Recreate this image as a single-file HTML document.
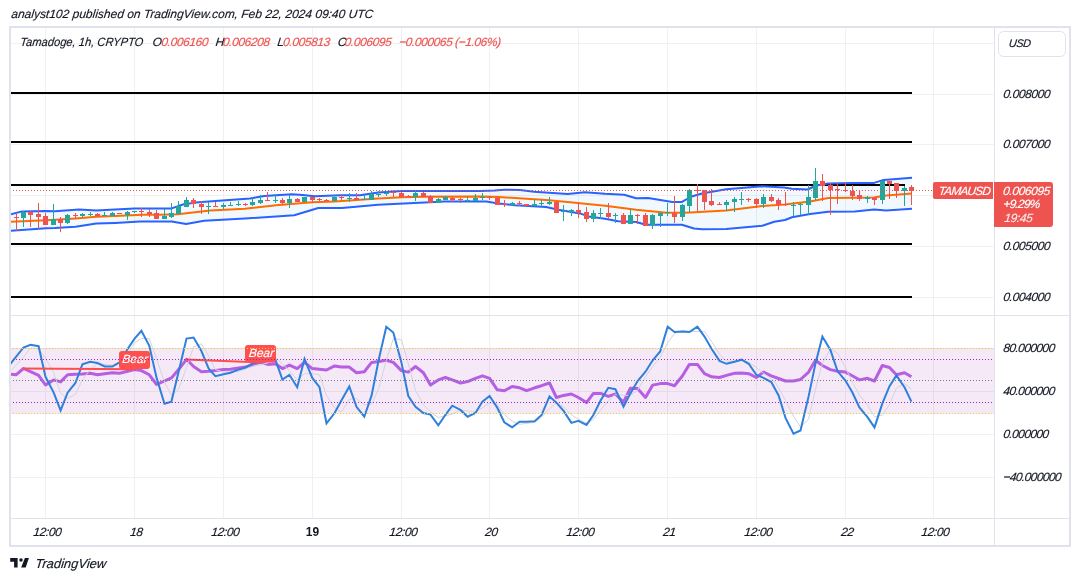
<!DOCTYPE html>
<html><head><meta charset="utf-8"><style>
html,body{margin:0;padding:0;background:#fff;width:1080px;height:581px;overflow:hidden}
svg{display:block;font-family:"Liberation Sans", sans-serif;will-change:transform}
</style></head><body>
<svg width="1080" height="581" viewBox="0 0 1080 581">
<rect x="45" y="28" width="1" height="490" fill="#f0f0f0"/>
<rect x="134" y="28" width="1" height="490" fill="#f0f0f0"/>
<rect x="223" y="28" width="1" height="490" fill="#f0f0f0"/>
<rect x="312" y="28" width="1" height="490" fill="#f0f0f0"/>
<rect x="401" y="28" width="1" height="490" fill="#f0f0f0"/>
<rect x="489" y="28" width="1" height="490" fill="#f0f0f0"/>
<rect x="578" y="28" width="1" height="490" fill="#f0f0f0"/>
<rect x="667" y="28" width="1" height="490" fill="#f0f0f0"/>
<rect x="756" y="28" width="1" height="490" fill="#f0f0f0"/>
<rect x="845" y="28" width="1" height="490" fill="#f0f0f0"/>
<rect x="933" y="28" width="1" height="490" fill="#f0f0f0"/>
<rect x="11" y="43" width="983" height="1" fill="#f0f0f0"/>
<rect x="11" y="94" width="983" height="1" fill="#f0f0f0"/>
<rect x="11" y="144" width="983" height="1" fill="#f0f0f0"/>
<rect x="11" y="195" width="983" height="1" fill="#f0f0f0"/>
<rect x="11" y="246" width="983" height="1" fill="#f0f0f0"/>
<rect x="11" y="297" width="983" height="1" fill="#f0f0f0"/>
<rect x="11" y="348" width="983" height="1" fill="#f0f0f0"/>
<rect x="11" y="391" width="983" height="1" fill="#f0f0f0"/>
<rect x="11" y="434" width="983" height="1" fill="#f0f0f0"/>
<rect x="11" y="477" width="983" height="1" fill="#f0f0f0"/>
<rect x="10" y="27" width="1060" height="519" fill="none" stroke="#e0e3eb" stroke-width="2"/>
<rect x="994" y="28" width="1" height="517" fill="#e0e3eb"/>
<rect x="11" y="315" width="1058" height="1" fill="#e0e3eb"/>
<rect x="11" y="518" width="1058" height="1" fill="#e0e3eb"/>
<defs><clipPath id="mainclip"><rect x="11" y="28" width="983" height="287"/></clipPath><clipPath id="indclip"><rect x="11" y="316" width="983" height="202"/></clipPath></defs>
<g clip-path="url(#mainclip)">
<polygon points="11.0,214.2 22.0,211.4 46.0,210.9 55.0,211.2 79.1,209.4 96.3,210.5 115.0,209.4 134.2,208.4 171.7,208.4 183.7,204.3 198.2,202.2 250.0,198.5 264.1,196.1 291.8,194.3 302.7,195.0 314.7,196.3 340.0,195.3 360.1,195.3 378.2,192.5 402.3,191.1 430.0,190.9 480.2,191.1 494.7,190.4 504.3,189.7 520.0,190.0 534.1,191.7 567.8,193.9 584.7,192.3 605.0,193.8 624.1,194.7 636.1,198.3 648.2,198.0 672.3,201.9 681.9,201.9 691.6,196.5 702.0,193.5 726.1,189.3 762.3,186.3 784.0,187.6 792.0,188.7 807.7,189.5 816.1,185.5 828.2,183.5 852.3,182.9 874.1,182.9 883.7,179.9 912.0,177.8 912.0,208.8 886.1,210.6 874.1,209.4 855.0,211.6 828.2,211.8 810.1,214.0 792.0,217.2 785.0,220.0 774.3,221.8 762.3,225.7 726.1,229.0 702.0,229.3 694.0,228.5 681.9,224.8 645.8,224.8 636.1,222.0 618.1,221.2 605.0,218.7 588.3,216.4 579.9,213.4 558.2,209.8 546.1,207.1 515.0,205.2 498.3,203.4 486.3,201.6 444.1,201.6 430.0,202.2 378.2,204.8 342.0,208.1 318.3,208.0 294.2,215.2 245.0,218.6 204.2,220.8 186.1,223.9 171.7,221.4 140.2,221.6 115.0,222.9 96.3,223.6 75.6,226.7 55.0,227.9 46.1,228.2 11.0,230.7" fill="rgba(33,150,243,0.06)"/>
<rect x="11" y="92" width="901" height="2" fill="#000"/>
<rect x="11" y="141" width="901" height="2" fill="#000"/>
<rect x="11" y="184" width="894" height="2" fill="#000"/>
<rect x="11" y="243" width="901" height="2" fill="#000"/>
<rect x="11" y="296" width="901" height="2" fill="#000"/>
<polyline points="11.0,214.2 22.0,211.4 46.0,210.9 55.0,211.2 79.1,209.4 96.3,210.5 115.0,209.4 134.2,208.4 171.7,208.4 183.7,204.3 198.2,202.2 250.0,198.5 264.1,196.1 291.8,194.3 302.7,195.0 314.7,196.3 340.0,195.3 360.1,195.3 378.2,192.5 402.3,191.1 430.0,190.9 480.2,191.1 494.7,190.4 504.3,189.7 520.0,190.0 534.1,191.7 567.8,193.9 584.7,192.3 605.0,193.8 624.1,194.7 636.1,198.3 648.2,198.0 672.3,201.9 681.9,201.9 691.6,196.5 702.0,193.5 726.1,189.3 762.3,186.3 784.0,187.6 792.0,188.7 807.7,189.5 816.1,185.5 828.2,183.5 852.3,182.9 874.1,182.9 883.7,179.9 912.0,177.8" fill="none" stroke="#2962ff" stroke-width="2" stroke-linejoin="round"/>
<polyline points="11.0,230.7 46.1,228.2 55.0,227.9 75.6,226.7 96.3,223.6 115.0,222.9 140.2,221.6 171.7,221.4 186.1,223.9 204.2,220.8 245.0,218.6 294.2,215.2 318.3,208.0 342.0,208.1 378.2,204.8 430.0,202.2 444.1,201.6 486.3,201.6 498.3,203.4 515.0,205.2 546.1,207.1 558.2,209.8 579.9,213.4 588.3,216.4 605.0,218.7 618.1,221.2 636.1,222.0 645.8,224.8 681.9,224.8 694.0,228.5 702.0,229.3 726.1,229.0 762.3,225.7 774.3,221.8 785.0,220.0 792.0,217.2 810.1,214.0 828.2,211.8 855.0,211.6 874.1,209.4 886.1,210.6 912.0,208.8" fill="none" stroke="#2962ff" stroke-width="2" stroke-linejoin="round"/>
<polyline points="11.0,221.8 46.1,220.3 55.0,219.8 75.6,218.4 96.3,216.7 115.0,216.0 142.7,214.8 160.0,214.8 177.7,214.2 210.2,210.6 245.0,208.7 276.1,205.2 312.3,202.2 335.0,201.6 378.2,198.6 402.3,197.3 425.0,196.8 480.2,196.5 498.3,197.1 515.0,198.0 546.1,200.1 570.2,202.3 605.0,205.7 636.1,209.8 666.3,212.8 684.3,212.8 695.0,212.2 726.1,210.4 762.3,206.1 785.0,204.4 810.1,201.6 828.2,198.0 855.0,197.7 874.1,197.6 886.1,195.5 912.0,193.5" fill="none" stroke="#ff6d00" stroke-width="2" stroke-linejoin="round"/>
<rect x="16" y="213" width="1" height="18" fill="#ef5350"/>
<rect x="14" y="217" width="5" height="1" fill="#ef5350"/>
<rect x="23" y="211" width="1" height="16" fill="#26a69a"/>
<rect x="21" y="212" width="5" height="6" fill="#26a69a"/>
<rect x="30" y="211" width="1" height="16" fill="#ef5350"/>
<rect x="28" y="212" width="5" height="3" fill="#ef5350"/>
<rect x="38" y="203" width="1" height="26" fill="#ef5350"/>
<rect x="36" y="214" width="5" height="3" fill="#ef5350"/>
<rect x="45" y="213" width="1" height="12" fill="#ef5350"/>
<rect x="43" y="216" width="5" height="9" fill="#ef5350"/>
<rect x="53" y="204" width="1" height="21" fill="#26a69a"/>
<rect x="51" y="219" width="5" height="6" fill="#26a69a"/>
<rect x="60" y="217" width="1" height="15" fill="#ef5350"/>
<rect x="58" y="219" width="5" height="4" fill="#ef5350"/>
<rect x="67" y="214" width="1" height="10" fill="#26a69a"/>
<rect x="65" y="215" width="5" height="8" fill="#26a69a"/>
<rect x="75" y="213" width="1" height="6" fill="#ef5350"/>
<rect x="73" y="215" width="5" height="1" fill="#ef5350"/>
<rect x="82" y="213" width="1" height="4" fill="#26a69a"/>
<rect x="80" y="214" width="5" height="2" fill="#26a69a"/>
<rect x="90" y="212" width="1" height="4" fill="#26a69a"/>
<rect x="88" y="214" width="5" height="1" fill="#26a69a"/>
<rect x="97" y="213" width="1" height="4" fill="#ef5350"/>
<rect x="95" y="214" width="5" height="2" fill="#ef5350"/>
<rect x="104" y="212" width="1" height="4" fill="#26a69a"/>
<rect x="102" y="215" width="5" height="1" fill="#26a69a"/>
<rect x="112" y="212" width="1" height="4" fill="#26a69a"/>
<rect x="110" y="213" width="5" height="3" fill="#26a69a"/>
<rect x="119" y="213" width="1" height="1" fill="#ef5350"/>
<rect x="117" y="213" width="5" height="1" fill="#ef5350"/>
<rect x="127" y="211" width="1" height="9" fill="#26a69a"/>
<rect x="125" y="212" width="5" height="3" fill="#26a69a"/>
<rect x="134" y="211" width="1" height="2" fill="#26a69a"/>
<rect x="132" y="211" width="5" height="1" fill="#26a69a"/>
<rect x="141" y="208" width="1" height="9" fill="#ef5350"/>
<rect x="139" y="211" width="5" height="1" fill="#ef5350"/>
<rect x="149" y="209" width="1" height="8" fill="#ef5350"/>
<rect x="147" y="212" width="5" height="2" fill="#ef5350"/>
<rect x="156" y="210" width="1" height="9" fill="#ef5350"/>
<rect x="154" y="213" width="5" height="6" fill="#ef5350"/>
<rect x="164" y="209" width="1" height="10" fill="#26a69a"/>
<rect x="162" y="216" width="5" height="3" fill="#26a69a"/>
<rect x="171" y="203" width="1" height="15" fill="#26a69a"/>
<rect x="169" y="213" width="5" height="4" fill="#26a69a"/>
<rect x="178" y="201" width="1" height="13" fill="#26a69a"/>
<rect x="176" y="206" width="5" height="8" fill="#26a69a"/>
<rect x="186" y="197" width="1" height="10" fill="#26a69a"/>
<rect x="184" y="200" width="5" height="7" fill="#26a69a"/>
<rect x="193" y="198" width="1" height="10" fill="#ef5350"/>
<rect x="191" y="200" width="5" height="4" fill="#ef5350"/>
<rect x="201" y="201" width="1" height="13" fill="#ef5350"/>
<rect x="199" y="204" width="5" height="3" fill="#ef5350"/>
<rect x="208" y="202" width="1" height="12" fill="#26a69a"/>
<rect x="206" y="206" width="5" height="1" fill="#26a69a"/>
<rect x="215" y="202" width="1" height="5" fill="#ef5350"/>
<rect x="213" y="206" width="5" height="1" fill="#ef5350"/>
<rect x="223" y="203" width="1" height="6" fill="#26a69a"/>
<rect x="221" y="205" width="5" height="2" fill="#26a69a"/>
<rect x="230" y="202" width="1" height="4" fill="#26a69a"/>
<rect x="228" y="205" width="5" height="1" fill="#26a69a"/>
<rect x="238" y="201" width="1" height="5" fill="#26a69a"/>
<rect x="236" y="204" width="5" height="1" fill="#26a69a"/>
<rect x="245" y="203" width="1" height="3" fill="#ef5350"/>
<rect x="243" y="204" width="5" height="1" fill="#ef5350"/>
<rect x="252" y="198" width="1" height="8" fill="#26a69a"/>
<rect x="250" y="202" width="5" height="3" fill="#26a69a"/>
<rect x="260" y="195" width="1" height="9" fill="#26a69a"/>
<rect x="258" y="200" width="5" height="3" fill="#26a69a"/>
<rect x="267" y="192" width="1" height="9" fill="#ef5350"/>
<rect x="265" y="200" width="5" height="1" fill="#ef5350"/>
<rect x="275" y="194" width="1" height="9" fill="#26a69a"/>
<rect x="273" y="200" width="5" height="1" fill="#26a69a"/>
<rect x="282" y="198" width="1" height="7" fill="#ef5350"/>
<rect x="280" y="200" width="5" height="3" fill="#ef5350"/>
<rect x="289" y="195" width="1" height="13" fill="#26a69a"/>
<rect x="287" y="199" width="5" height="4" fill="#26a69a"/>
<rect x="297" y="198" width="1" height="4" fill="#ef5350"/>
<rect x="295" y="199" width="5" height="3" fill="#ef5350"/>
<rect x="304" y="197" width="1" height="5" fill="#26a69a"/>
<rect x="302" y="197" width="5" height="5" fill="#26a69a"/>
<rect x="312" y="197" width="1" height="6" fill="#ef5350"/>
<rect x="310" y="197" width="5" height="3" fill="#ef5350"/>
<rect x="319" y="198" width="1" height="3" fill="#ef5350"/>
<rect x="317" y="199" width="5" height="1" fill="#ef5350"/>
<rect x="326" y="199" width="1" height="2" fill="#ef5350"/>
<rect x="324" y="200" width="5" height="1" fill="#ef5350"/>
<rect x="334" y="195" width="1" height="6" fill="#26a69a"/>
<rect x="332" y="197" width="5" height="4" fill="#26a69a"/>
<rect x="341" y="195" width="1" height="5" fill="#ef5350"/>
<rect x="339" y="197" width="5" height="1" fill="#ef5350"/>
<rect x="349" y="193" width="1" height="9" fill="#26a69a"/>
<rect x="347" y="198" width="5" height="1" fill="#26a69a"/>
<rect x="356" y="193" width="1" height="7" fill="#ef5350"/>
<rect x="354" y="198" width="5" height="2" fill="#ef5350"/>
<rect x="364" y="195" width="1" height="5" fill="#26a69a"/>
<rect x="362" y="199" width="5" height="1" fill="#26a69a"/>
<rect x="371" y="191" width="1" height="9" fill="#26a69a"/>
<rect x="369" y="194" width="5" height="6" fill="#26a69a"/>
<rect x="378" y="191" width="1" height="6" fill="#26a69a"/>
<rect x="376" y="194" width="5" height="1" fill="#26a69a"/>
<rect x="386" y="191" width="1" height="5" fill="#26a69a"/>
<rect x="384" y="193" width="5" height="1" fill="#26a69a"/>
<rect x="393" y="190" width="1" height="7" fill="#ef5350"/>
<rect x="391" y="192" width="5" height="1" fill="#ef5350"/>
<rect x="401" y="192" width="1" height="5" fill="#ef5350"/>
<rect x="399" y="193" width="5" height="4" fill="#ef5350"/>
<rect x="408" y="195" width="1" height="2" fill="#ef5350"/>
<rect x="406" y="196" width="5" height="1" fill="#ef5350"/>
<rect x="415" y="191" width="1" height="10" fill="#26a69a"/>
<rect x="413" y="193" width="5" height="4" fill="#26a69a"/>
<rect x="423" y="192" width="1" height="5" fill="#ef5350"/>
<rect x="421" y="193" width="5" height="4" fill="#ef5350"/>
<rect x="430" y="195" width="1" height="8" fill="#ef5350"/>
<rect x="428" y="196" width="5" height="7" fill="#ef5350"/>
<rect x="438" y="198" width="1" height="5" fill="#26a69a"/>
<rect x="436" y="199" width="5" height="4" fill="#26a69a"/>
<rect x="445" y="196" width="1" height="4" fill="#26a69a"/>
<rect x="443" y="197" width="5" height="3" fill="#26a69a"/>
<rect x="452" y="197" width="1" height="5" fill="#ef5350"/>
<rect x="450" y="198" width="5" height="2" fill="#ef5350"/>
<rect x="460" y="198" width="1" height="5" fill="#ef5350"/>
<rect x="458" y="199" width="5" height="1" fill="#ef5350"/>
<rect x="467" y="197" width="1" height="5" fill="#26a69a"/>
<rect x="465" y="200" width="5" height="1" fill="#26a69a"/>
<rect x="475" y="194" width="1" height="7" fill="#26a69a"/>
<rect x="473" y="198" width="5" height="3" fill="#26a69a"/>
<rect x="482" y="193" width="1" height="7" fill="#26a69a"/>
<rect x="480" y="197" width="5" height="1" fill="#26a69a"/>
<rect x="489" y="196" width="1" height="4" fill="#ef5350"/>
<rect x="487" y="197" width="5" height="1" fill="#ef5350"/>
<rect x="497" y="196" width="1" height="9" fill="#ef5350"/>
<rect x="495" y="198" width="5" height="7" fill="#ef5350"/>
<rect x="504" y="200" width="1" height="7" fill="#ef5350"/>
<rect x="502" y="204" width="5" height="1" fill="#ef5350"/>
<rect x="512" y="202" width="1" height="4" fill="#26a69a"/>
<rect x="510" y="203" width="5" height="2" fill="#26a69a"/>
<rect x="519" y="201" width="1" height="5" fill="#ef5350"/>
<rect x="517" y="203" width="5" height="1" fill="#ef5350"/>
<rect x="526" y="204" width="1" height="2" fill="#ef5350"/>
<rect x="524" y="204" width="5" height="2" fill="#ef5350"/>
<rect x="534" y="200" width="1" height="6" fill="#26a69a"/>
<rect x="532" y="204" width="5" height="2" fill="#26a69a"/>
<rect x="541" y="200" width="1" height="7" fill="#26a69a"/>
<rect x="539" y="203" width="5" height="1" fill="#26a69a"/>
<rect x="549" y="197" width="1" height="8" fill="#26a69a"/>
<rect x="547" y="202" width="5" height="2" fill="#26a69a"/>
<rect x="556" y="201" width="1" height="12" fill="#ef5350"/>
<rect x="554" y="202" width="5" height="11" fill="#ef5350"/>
<rect x="563" y="205" width="1" height="16" fill="#26a69a"/>
<rect x="561" y="211" width="5" height="1" fill="#26a69a"/>
<rect x="571" y="209" width="1" height="7" fill="#26a69a"/>
<rect x="569" y="210" width="5" height="2" fill="#26a69a"/>
<rect x="578" y="202" width="1" height="16" fill="#ef5350"/>
<rect x="576" y="210" width="5" height="3" fill="#ef5350"/>
<rect x="586" y="207" width="1" height="15" fill="#ef5350"/>
<rect x="584" y="212" width="5" height="7" fill="#ef5350"/>
<rect x="593" y="210" width="1" height="12" fill="#26a69a"/>
<rect x="591" y="213" width="5" height="6" fill="#26a69a"/>
<rect x="600" y="208" width="1" height="11" fill="#26a69a"/>
<rect x="598" y="213" width="5" height="1" fill="#26a69a"/>
<rect x="608" y="203" width="1" height="16" fill="#ef5350"/>
<rect x="606" y="213" width="5" height="4" fill="#ef5350"/>
<rect x="615" y="213" width="1" height="10" fill="#26a69a"/>
<rect x="613" y="215" width="5" height="1" fill="#26a69a"/>
<rect x="623" y="213" width="1" height="11" fill="#ef5350"/>
<rect x="621" y="215" width="5" height="9" fill="#ef5350"/>
<rect x="630" y="209" width="1" height="15" fill="#26a69a"/>
<rect x="628" y="215" width="5" height="9" fill="#26a69a"/>
<rect x="637" y="214" width="1" height="10" fill="#ef5350"/>
<rect x="635" y="215" width="5" height="1" fill="#ef5350"/>
<rect x="645" y="213" width="1" height="13" fill="#ef5350"/>
<rect x="643" y="215" width="5" height="11" fill="#ef5350"/>
<rect x="652" y="214" width="1" height="15" fill="#26a69a"/>
<rect x="650" y="215" width="5" height="10" fill="#26a69a"/>
<rect x="660" y="212" width="1" height="15" fill="#26a69a"/>
<rect x="658" y="213" width="5" height="3" fill="#26a69a"/>
<rect x="667" y="203" width="1" height="13" fill="#26a69a"/>
<rect x="665" y="212" width="5" height="1" fill="#26a69a"/>
<rect x="674" y="196" width="1" height="27" fill="#ef5350"/>
<rect x="672" y="213" width="5" height="4" fill="#ef5350"/>
<rect x="682" y="204" width="1" height="17" fill="#26a69a"/>
<rect x="680" y="205" width="5" height="12" fill="#26a69a"/>
<rect x="689" y="189" width="1" height="23" fill="#26a69a"/>
<rect x="687" y="190" width="5" height="16" fill="#26a69a"/>
<rect x="697" y="184" width="1" height="28" fill="#ef5350"/>
<rect x="695" y="190" width="5" height="1" fill="#ef5350"/>
<rect x="704" y="190" width="1" height="20" fill="#ef5350"/>
<rect x="702" y="190" width="5" height="12" fill="#ef5350"/>
<rect x="711" y="189" width="1" height="17" fill="#ef5350"/>
<rect x="709" y="201" width="5" height="4" fill="#ef5350"/>
<rect x="719" y="202" width="1" height="3" fill="#ef5350"/>
<rect x="717" y="204" width="5" height="1" fill="#ef5350"/>
<rect x="726" y="200" width="1" height="11" fill="#26a69a"/>
<rect x="724" y="202" width="5" height="3" fill="#26a69a"/>
<rect x="734" y="197" width="1" height="15" fill="#26a69a"/>
<rect x="732" y="199" width="5" height="3" fill="#26a69a"/>
<rect x="741" y="192" width="1" height="13" fill="#26a69a"/>
<rect x="739" y="199" width="5" height="1" fill="#26a69a"/>
<rect x="748" y="198" width="1" height="4" fill="#ef5350"/>
<rect x="746" y="199" width="5" height="1" fill="#ef5350"/>
<rect x="756" y="198" width="1" height="10" fill="#ef5350"/>
<rect x="754" y="199" width="5" height="5" fill="#ef5350"/>
<rect x="763" y="194" width="1" height="14" fill="#26a69a"/>
<rect x="761" y="197" width="5" height="7" fill="#26a69a"/>
<rect x="771" y="194" width="1" height="8" fill="#ef5350"/>
<rect x="769" y="197" width="5" height="4" fill="#ef5350"/>
<rect x="778" y="198" width="1" height="12" fill="#ef5350"/>
<rect x="776" y="200" width="5" height="5" fill="#ef5350"/>
<rect x="785" y="192" width="1" height="14" fill="#ef5350"/>
<rect x="783" y="204" width="5" height="1" fill="#ef5350"/>
<rect x="793" y="202" width="1" height="14" fill="#26a69a"/>
<rect x="791" y="205" width="5" height="1" fill="#26a69a"/>
<rect x="800" y="203" width="1" height="12" fill="#26a69a"/>
<rect x="798" y="204" width="5" height="1" fill="#26a69a"/>
<rect x="808" y="185" width="1" height="30" fill="#26a69a"/>
<rect x="806" y="197" width="5" height="8" fill="#26a69a"/>
<rect x="815" y="168" width="1" height="32" fill="#26a69a"/>
<rect x="813" y="181" width="5" height="17" fill="#26a69a"/>
<rect x="822" y="174" width="1" height="27" fill="#ef5350"/>
<rect x="820" y="181" width="5" height="5" fill="#ef5350"/>
<rect x="830" y="183" width="1" height="32" fill="#ef5350"/>
<rect x="828" y="185" width="5" height="5" fill="#ef5350"/>
<rect x="837" y="182" width="1" height="22" fill="#ef5350"/>
<rect x="835" y="189" width="5" height="1" fill="#ef5350"/>
<rect x="845" y="182" width="1" height="10" fill="#ef5350"/>
<rect x="843" y="190" width="5" height="1" fill="#ef5350"/>
<rect x="852" y="185" width="1" height="15" fill="#ef5350"/>
<rect x="850" y="191" width="5" height="5" fill="#ef5350"/>
<rect x="859" y="190" width="1" height="11" fill="#ef5350"/>
<rect x="857" y="195" width="5" height="4" fill="#ef5350"/>
<rect x="867" y="196" width="1" height="7" fill="#26a69a"/>
<rect x="865" y="197" width="5" height="2" fill="#26a69a"/>
<rect x="874" y="197" width="1" height="8" fill="#ef5350"/>
<rect x="872" y="197" width="5" height="3" fill="#ef5350"/>
<rect x="882" y="181" width="1" height="23" fill="#26a69a"/>
<rect x="880" y="181" width="5" height="19" fill="#26a69a"/>
<rect x="889" y="181" width="1" height="18" fill="#ef5350"/>
<rect x="887" y="181" width="5" height="3" fill="#ef5350"/>
<rect x="896" y="183" width="1" height="15" fill="#ef5350"/>
<rect x="894" y="183" width="5" height="8" fill="#ef5350"/>
<rect x="904" y="186" width="1" height="20" fill="#26a69a"/>
<rect x="902" y="188" width="5" height="3" fill="#26a69a"/>
<rect x="911" y="185" width="1" height="20" fill="#ef5350"/>
<rect x="909" y="187" width="5" height="4" fill="#ef5350"/>
<line x1="10" y1="190.5" x2="933" y2="190.5" stroke="#ef5350" stroke-width="1" stroke-dasharray="1 2"/>
</g>
<g clip-path="url(#indclip)">
<rect x="11" y="348" width="983" height="66" fill="rgba(156,39,176,0.1)"/>
<polyline points="10.0,374.1 16.3,374.7 23.5,368.5 30.5,371.6 38.6,375.3 45.5,385.0 53.6,379.9 60.6,381.9 67.6,374.7 75.4,374.3 82.4,374.1 90.2,373.3 97.5,374.8 104.7,373.7 112.3,372.7 119.5,373.3 127.6,371.3 134.6,369.6 141.4,370.6 149.3,374.8 156.6,384.5 164.5,381.0 171.4,377.9 178.6,369.6 186.5,359.3 193.6,366.5 201.4,371.7 208.7,371.3 215.4,370.6 223.5,369.6 230.5,369.2 238.6,368.0 245.5,367.1 252.7,364.4 260.5,362.4 267.7,364.4 275.3,363.8 282.4,368.6 289.4,365.1 297.2,368.6 304.5,362.4 312.3,368.6 319.5,369.2 326.5,370.0 334.6,365.9 341.4,367.1 349.3,367.1 356.5,372.7 364.3,371.7 371.6,362.4 378.8,361.4 386.3,360.3 393.3,362.4 401.4,370.6 408.3,372.1 415.5,366.5 423.4,372.7 430.5,385.1 438.3,379.9 445.3,377.5 452.3,379.9 460.4,383.0 467.6,381.6 475.4,378.3 482.4,375.8 489.6,378.3 497.3,389.8 504.3,390.7 512.2,386.5 519.6,387.8 526.6,390.7 534.7,387.8 541.6,385.7 549.5,383.0 556.4,397.5 563.6,395.4 571.4,394.0 578.4,397.5 586.5,402.6 593.4,393.4 600.6,393.4 608.3,396.4 615.4,394.0 623.5,402.2 630.4,388.2 637.6,388.6 645.5,397.5 652.7,385.1 660.2,383.6 667.7,383.6 674.5,385.7 682.5,375.8 689.4,364.4 697.4,364.4 704.5,373.7 711.7,376.8 719.5,377.5 726.5,375.4 734.6,373.3 741.6,372.9 748.7,373.7 756.3,377.5 763.5,372.1 771.3,375.8 778.6,378.5 785.6,381.0 793.5,381.0 800.5,379.5 808.6,372.1 815.5,360.3 822.4,365.5 830.4,369.6 837.6,371.3 845.4,372.1 852.3,375.8 859.4,379.9 867.5,378.3 874.5,381.0 882.3,365.5 889.5,367.5 896.4,374.8 904.5,372.7 911.4,376.8" fill="none" stroke="#b65fe3" stroke-width="3" stroke-linejoin="round"/>
<polyline points="10.0,371.6 23.5,357.2 30.5,347.9 38.6,348.9 45.5,358.2 53.6,372.6 60.6,393.3 67.6,398.4 75.4,394.3 82.4,379.9 90.2,369.5 97.5,363.8 112.3,365.1 119.5,362.4 127.6,354.1 134.6,342.8 141.4,338.6 149.3,338.6 156.6,359.3 164.5,382.0 171.4,395.4 178.6,389.2 186.5,367.5 193.6,346.9 201.4,343.8 208.7,356.2 215.4,369.6 223.5,372.1 238.6,371.3 252.7,366.5 267.7,363.0 275.3,357.2 289.4,370.6 297.2,379.9 304.5,373.7 312.3,373.7 319.5,374.8 326.5,395.4 334.6,407.8 341.4,411.9 349.3,399.5 356.5,398.5 364.3,404.7 371.6,404.3 378.8,388.2 386.3,360.3 393.3,338.6 401.4,339.7 408.3,363.4 415.5,390.3 423.4,404.7 430.5,411.9 438.3,417.5 452.3,414.0 460.4,409.9 467.6,410.9 475.4,411.9 482.4,407.8 489.6,402.6 497.3,404.7 504.3,414.6 512.2,421.2 519.6,424.3 534.7,422.3 541.6,417.1 549.5,408.8 556.4,402.6 563.6,406.8 571.4,415.0 578.4,419.2 586.5,423.3 593.4,419.2 600.6,409.9 608.3,400.6 615.4,394.4 623.5,395.4 630.4,395.4 637.6,390.3 645.5,376.8 652.7,366.5 660.2,357.2 667.7,342.8 674.5,333.5 682.5,330.8 689.4,331.4 704.5,331.4 711.7,341.7 719.5,354.1 726.5,361.4 734.6,360.9 741.6,360.3 748.7,362.4 756.3,367.5 763.5,373.3 771.3,378.9 775.0,382.0 785.6,400.6 793.5,416.1 800.5,427.0 808.6,419.2 815.5,389.2 822.4,363.4 830.4,349.0 837.6,353.1 845.4,367.5 852.3,382.0 859.4,394.9 867.5,404.7 874.5,416.7 882.3,415.0 889.5,404.7 896.4,388.2 904.5,383.6 911.4,389.2" fill="none" stroke="#d1d4dc" stroke-width="1"/>
<polyline points="10.0,364.4 23.5,347.5 30.5,344.8 38.6,346.2 45.5,376.8 53.6,392.3 60.6,410.4 67.6,392.7 75.4,383.0 82.4,364.4 90.2,361.7 97.5,363.0 104.7,366.5 112.3,366.5 119.5,362.4 127.6,349.0 134.6,338.6 141.4,330.8 149.3,345.9 156.6,377.9 164.5,403.7 171.4,401.6 178.6,371.7 186.5,338.6 193.6,337.6 201.4,351.0 208.7,368.6 215.4,376.2 223.5,374.2 230.5,372.7 238.6,369.6 245.5,367.5 252.7,363.4 260.5,361.8 275.3,359.3 282.4,379.5 289.4,374.8 297.2,387.2 304.5,358.9 312.3,377.9 319.5,387.2 326.5,423.3 334.6,413.0 341.4,400.6 349.3,386.5 356.5,406.8 364.3,416.7 371.6,395.4 378.8,359.3 386.3,326.7 393.3,332.5 401.4,362.4 408.3,396.0 415.5,406.8 423.4,413.0 430.5,414.6 438.3,425.3 445.3,415.0 452.3,405.7 460.4,409.9 467.6,416.7 475.4,413.0 482.4,401.6 489.6,396.0 497.3,407.8 504.3,422.3 512.2,427.4 519.6,421.8 526.6,421.8 534.7,421.2 541.6,415.0 549.5,396.4 556.4,402.6 563.6,410.9 571.4,422.9 578.4,420.8 586.5,424.9 593.4,415.0 600.6,400.6 608.3,387.8 615.4,389.2 623.5,406.8 630.4,393.4 637.6,381.0 645.5,371.7 652.7,360.3 660.2,351.4 667.7,326.7 674.5,332.0 682.5,331.4 689.4,332.0 697.4,326.7 704.5,336.6 711.7,349.0 719.5,360.9 726.5,363.8 734.6,361.8 741.6,359.7 748.7,363.8 756.3,374.8 763.5,377.9 771.3,382.0 778.6,395.4 785.6,418.1 793.5,433.6 800.5,430.5 808.6,396.4 815.5,363.4 822.4,336.6 830.4,350.0 837.6,371.3 845.4,380.5 852.3,392.3 859.4,407.5 867.5,417.1 874.5,427.4 882.3,403.7 889.5,386.1 896.4,375.4 904.5,387.2 911.4,401.6" fill="none" stroke="#2f80dd" stroke-width="2" stroke-linejoin="miter"/>
<line x1="22.8" y1="368.6" x2="136" y2="369.2" stroke="#ff4d4d" stroke-width="2"/>
<line x1="185.5" y1="359.6" x2="262" y2="362.4" stroke="#ff4d4d" stroke-width="2"/>
<rect x="119" y="351" width="31" height="18" rx="3" fill="#ff4f4f"/>
<rect x="245" y="345" width="31" height="17.5" rx="3" fill="#ff4f4f"/>
<text x="122.10" y="362.80" font-size="12" fill="#fff" stroke="#fff" stroke-width="0.15" letter-spacing="0" text-anchor="start" style="font-style:italic;" transform="translate(122.10,362.80) scale(1.0000,1) skewX(-6.0) translate(-122.10,-362.80)">Bear</text>
<text x="248.40" y="356.70" font-size="12" fill="#fff" stroke="#fff" stroke-width="0.15" letter-spacing="0" text-anchor="start" style="font-style:italic;" transform="translate(248.40,356.70) scale(1.0000,1) skewX(-6.0) translate(-248.40,-356.70)">Bear</text>
<line x1="10" y1="348.5" x2="994" y2="348.5" stroke="#f2d31b" stroke-width="1" stroke-dasharray="1 2"/>
<line x1="10" y1="359.5" x2="994" y2="359.5" stroke="#9c27b0" stroke-width="1" stroke-dasharray="1 2"/>
<line x1="10" y1="380.5" x2="994" y2="380.5" stroke="#787b86" stroke-width="1" stroke-dasharray="1 2"/>
<line x1="10" y1="402.5" x2="994" y2="402.5" stroke="#9c27b0" stroke-width="1" stroke-dasharray="1 2"/>
<line x1="10" y1="413.5" x2="994" y2="413.5" stroke="#f2d31b" stroke-width="1" stroke-dasharray="1 2"/>
</g>
<text x="11.00" y="18.50" font-size="12" fill="#131722" stroke="#131722" stroke-width="0.15" letter-spacing="0" text-anchor="start" style="font-style:italic;" transform="translate(11.00,18.50) scale(1.0000,1) skewX(-6.0) translate(-11.00,-18.50)">analyst102 published on TradingView.com, Feb 22, 2024 09:40 UTC</text>
<text x="20.00" y="45.80" font-size="12" fill="#131722" stroke="#131722" stroke-width="0.15" letter-spacing="0" text-anchor="start" style="font-style:italic;" transform="translate(20.00,45.80) scale(0.9300,1) skewX(-6.0) translate(-20.00,-45.80)">Tamadoge, 1h, CRYPTO</text>
<text x="152.20" y="45.80" font-size="12" fill="#131722" stroke="#131722" stroke-width="0.15" letter-spacing="-0.4" text-anchor="start" style="font-style:italic;" transform="translate(152.20,45.80) scale(1.0000,1) skewX(-6.0) translate(-152.20,-45.80)">O</text>
<text x="161.00" y="45.80" font-size="12" fill="#ef5350" stroke="#ef5350" stroke-width="0.15" letter-spacing="-0.4" text-anchor="start" style="font-style:italic;" transform="translate(161.00,45.80) scale(1.0000,1) skewX(-6.0) translate(-161.00,-45.80)">0.006160</text>
<text x="215.30" y="45.80" font-size="12" fill="#131722" stroke="#131722" stroke-width="0.15" letter-spacing="-0.4" text-anchor="start" style="font-style:italic;" transform="translate(215.30,45.80) scale(1.0000,1) skewX(-6.0) translate(-215.30,-45.80)">H</text>
<text x="222.50" y="45.80" font-size="12" fill="#ef5350" stroke="#ef5350" stroke-width="0.15" letter-spacing="-0.4" text-anchor="start" style="font-style:italic;" transform="translate(222.50,45.80) scale(1.0000,1) skewX(-6.0) translate(-222.50,-45.80)">0.006208</text>
<text x="277.00" y="45.80" font-size="12" fill="#131722" stroke="#131722" stroke-width="0.15" letter-spacing="-0.4" text-anchor="start" style="font-style:italic;" transform="translate(277.00,45.80) scale(1.0000,1) skewX(-6.0) translate(-277.00,-45.80)">L</text>
<text x="282.80" y="45.80" font-size="12" fill="#ef5350" stroke="#ef5350" stroke-width="0.15" letter-spacing="-0.4" text-anchor="start" style="font-style:italic;" transform="translate(282.80,45.80) scale(1.0000,1) skewX(-6.0) translate(-282.80,-45.80)">0.005813</text>
<text x="337.50" y="45.80" font-size="12" fill="#131722" stroke="#131722" stroke-width="0.15" letter-spacing="-0.4" text-anchor="start" style="font-style:italic;" transform="translate(337.50,45.80) scale(1.0000,1) skewX(-6.0) translate(-337.50,-45.80)">C</text>
<text x="344.20" y="45.80" font-size="12" fill="#ef5350" stroke="#ef5350" stroke-width="0.15" letter-spacing="-0.4" text-anchor="start" style="font-style:italic;" transform="translate(344.20,45.80) scale(1.0000,1) skewX(-6.0) translate(-344.20,-45.80)">0.006095</text>
<text x="398.70" y="45.80" font-size="12" fill="#ef5350" stroke="#ef5350" stroke-width="0.15" letter-spacing="-0.4" text-anchor="start" style="font-style:italic;" transform="translate(398.70,45.80) scale(1.0000,1) skewX(-6.0) translate(-398.70,-45.80)">−0.000065</text>
<text x="454.70" y="45.80" font-size="12" fill="#ef5350" stroke="#ef5350" stroke-width="0.15" letter-spacing="-0.4" text-anchor="start" style="font-style:italic;" transform="translate(454.70,45.80) scale(1.0000,1) skewX(-6.0) translate(-454.70,-45.80)">(−1.06%)</text>
<rect x="998.5" y="31.5" width="67" height="25" rx="5" fill="#fff" stroke="#e0e3eb" stroke-width="1"/>
<text x="1008.60" y="47.40" font-size="11" fill="#131722" stroke="#131722" stroke-width="0.15" letter-spacing="-0.5" text-anchor="start" style="font-style:italic;" transform="translate(1008.60,47.40) scale(1.0000,1) skewX(-6.0) translate(-1008.60,-47.40)">USD</text>
<text x="1003.00" y="98.00" font-size="12" fill="#131722" stroke="#131722" stroke-width="0.15" letter-spacing="-0.4" text-anchor="start" style="font-style:italic;" transform="translate(1003.00,98.00) scale(1.0000,1) skewX(-6.0) translate(-1003.00,-98.00)">0.008000</text>
<text x="1003.00" y="148.00" font-size="12" fill="#131722" stroke="#131722" stroke-width="0.15" letter-spacing="-0.4" text-anchor="start" style="font-style:italic;" transform="translate(1003.00,148.00) scale(1.0000,1) skewX(-6.0) translate(-1003.00,-148.00)">0.007000</text>
<text x="1003.00" y="250.00" font-size="12" fill="#131722" stroke="#131722" stroke-width="0.15" letter-spacing="-0.4" text-anchor="start" style="font-style:italic;" transform="translate(1003.00,250.00) scale(1.0000,1) skewX(-6.0) translate(-1003.00,-250.00)">0.005000</text>
<text x="1003.00" y="301.00" font-size="12" fill="#131722" stroke="#131722" stroke-width="0.15" letter-spacing="-0.4" text-anchor="start" style="font-style:italic;" transform="translate(1003.00,301.00) scale(1.0000,1) skewX(-6.0) translate(-1003.00,-301.00)">0.004000</text>
<text x="1003.00" y="352.50" font-size="12" fill="#131722" stroke="#131722" stroke-width="0.15" letter-spacing="-0.6" text-anchor="start" style="font-style:italic;" transform="translate(1003.00,352.50) scale(1.0000,1) skewX(-6.0) translate(-1003.00,-352.50)">80.000000</text>
<text x="1003.00" y="395.50" font-size="12" fill="#131722" stroke="#131722" stroke-width="0.15" letter-spacing="-0.6" text-anchor="start" style="font-style:italic;" transform="translate(1003.00,395.50) scale(1.0000,1) skewX(-6.0) translate(-1003.00,-395.50)">40.000000</text>
<text x="1003.00" y="438.50" font-size="12" fill="#131722" stroke="#131722" stroke-width="0.15" letter-spacing="-0.6" text-anchor="start" style="font-style:italic;" transform="translate(1003.00,438.50) scale(1.0000,1) skewX(-6.0) translate(-1003.00,-438.50)">0.000000</text>
<text x="1003.00" y="481.50" font-size="12" fill="#131722" stroke="#131722" stroke-width="0.15" letter-spacing="-0.6" text-anchor="start" style="font-style:italic;" transform="translate(1003.00,481.50) scale(1.0000,1) skewX(-6.0) translate(-1003.00,-481.50)">−40.000000</text>
<text x="47.00" y="535.70" font-size="12" fill="#131722" stroke="#131722" stroke-width="0.15" letter-spacing="-0.4" text-anchor="middle" style="font-style:italic;" transform="translate(47.00,535.70) scale(1.0000,1) skewX(-6.0) translate(-47.00,-535.70)">12:00</text>
<text x="136.00" y="535.70" font-size="12" fill="#131722" stroke="#131722" stroke-width="0.15" letter-spacing="-0.4" text-anchor="middle" style="font-style:italic;" transform="translate(136.00,535.70) scale(1.0000,1) skewX(-6.0) translate(-136.00,-535.70)">18</text>
<text x="225.00" y="535.70" font-size="12" fill="#131722" stroke="#131722" stroke-width="0.15" letter-spacing="-0.4" text-anchor="middle" style="font-style:italic;" transform="translate(225.00,535.70) scale(1.0000,1) skewX(-6.0) translate(-225.00,-535.70)">12:00</text>
<text x="312.50" y="535.70" font-size="12" fill="#131722" letter-spacing="0" text-anchor="middle" style="font-weight:bold;" transform="translate(312.50,535.70) scale(1.0000,1) skewX(0.0) translate(-312.50,-535.70)">19</text>
<text x="403.00" y="535.70" font-size="12" fill="#131722" stroke="#131722" stroke-width="0.15" letter-spacing="-0.4" text-anchor="middle" style="font-style:italic;" transform="translate(403.00,535.70) scale(1.0000,1) skewX(-6.0) translate(-403.00,-535.70)">12:00</text>
<text x="491.00" y="535.70" font-size="12" fill="#131722" stroke="#131722" stroke-width="0.15" letter-spacing="-0.4" text-anchor="middle" style="font-style:italic;" transform="translate(491.00,535.70) scale(1.0000,1) skewX(-6.0) translate(-491.00,-535.70)">20</text>
<text x="580.00" y="535.70" font-size="12" fill="#131722" stroke="#131722" stroke-width="0.15" letter-spacing="-0.4" text-anchor="middle" style="font-style:italic;" transform="translate(580.00,535.70) scale(1.0000,1) skewX(-6.0) translate(-580.00,-535.70)">12:00</text>
<text x="669.00" y="535.70" font-size="12" fill="#131722" stroke="#131722" stroke-width="0.15" letter-spacing="-0.4" text-anchor="middle" style="font-style:italic;" transform="translate(669.00,535.70) scale(1.0000,1) skewX(-6.0) translate(-669.00,-535.70)">21</text>
<text x="758.00" y="535.70" font-size="12" fill="#131722" stroke="#131722" stroke-width="0.15" letter-spacing="-0.4" text-anchor="middle" style="font-style:italic;" transform="translate(758.00,535.70) scale(1.0000,1) skewX(-6.0) translate(-758.00,-535.70)">12:00</text>
<text x="847.00" y="535.70" font-size="12" fill="#131722" stroke="#131722" stroke-width="0.15" letter-spacing="-0.4" text-anchor="middle" style="font-style:italic;" transform="translate(847.00,535.70) scale(1.0000,1) skewX(-6.0) translate(-847.00,-535.70)">22</text>
<text x="935.00" y="535.70" font-size="12" fill="#131722" stroke="#131722" stroke-width="0.15" letter-spacing="-0.4" text-anchor="middle" style="font-style:italic;" transform="translate(935.00,535.70) scale(1.0000,1) skewX(-6.0) translate(-935.00,-535.70)">12:00</text>
<path d="M935,182 H993 V199 H935 Q933,199 933,197 V184 Q933,182 935,182 Z" fill="#ef5350"/>
<text x="938.30" y="194.80" font-size="12" fill="#fff" stroke="#fff" stroke-width="0.15" letter-spacing="-0.9" text-anchor="start" style="font-style:italic;" transform="translate(938.30,194.80) scale(1.0000,1) skewX(-6.0) translate(-938.30,-194.80)">TAMAUSD</text>
<path d="M994,182 H1050 Q1053,182 1053,185 V224 Q1053,227 1050,227 H994 Z" fill="#ef5350"/>
<text x="1002.80" y="194.80" font-size="12" fill="#fff" stroke="#fff" stroke-width="0.15" letter-spacing="-0.4" text-anchor="start" style="font-style:italic;" transform="translate(1002.80,194.80) scale(1.0000,1) skewX(-6.0) translate(-1002.80,-194.80)">0.006095</text>
<text x="1003.00" y="208.40" font-size="12" fill="#fff" stroke="#fff" stroke-width="0.15" letter-spacing="-0.8" text-anchor="start" style="font-style:italic;" transform="translate(1003.00,208.40) scale(1.0000,1) skewX(-6.0) translate(-1003.00,-208.40)">+9.29%</text>
<text x="1004.00" y="222.40" font-size="12" fill="rgba(255,255,255,0.85)" stroke="rgba(255,255,255,0.85)" stroke-width="0.15" letter-spacing="-0.4" text-anchor="start" style="font-style:italic;" transform="translate(1004.00,222.40) scale(1.0000,1) skewX(-6.0) translate(-1004.00,-222.40)">19:45</text>
<path d="M10.2,558.1 H17.6 V567.6 H14.1 V561.7 H10.2 Z" fill="#131722"/>
<circle cx="21" cy="560" r="1.75" fill="#131722"/>
<path d="M24.9,558.1 H28.9 L25.7,567.6 H21.15 Z" fill="#131722"/>
<text x="35.00" y="568.00" font-size="13" fill="#131722" stroke="#131722" stroke-width="0.15" letter-spacing="0" text-anchor="start" style="font-style:italic;" transform="translate(35.00,568.00) scale(1.0000,1) skewX(-6.0) translate(-35.00,-568.00)">TradingView</text>
</svg>
</body></html>
